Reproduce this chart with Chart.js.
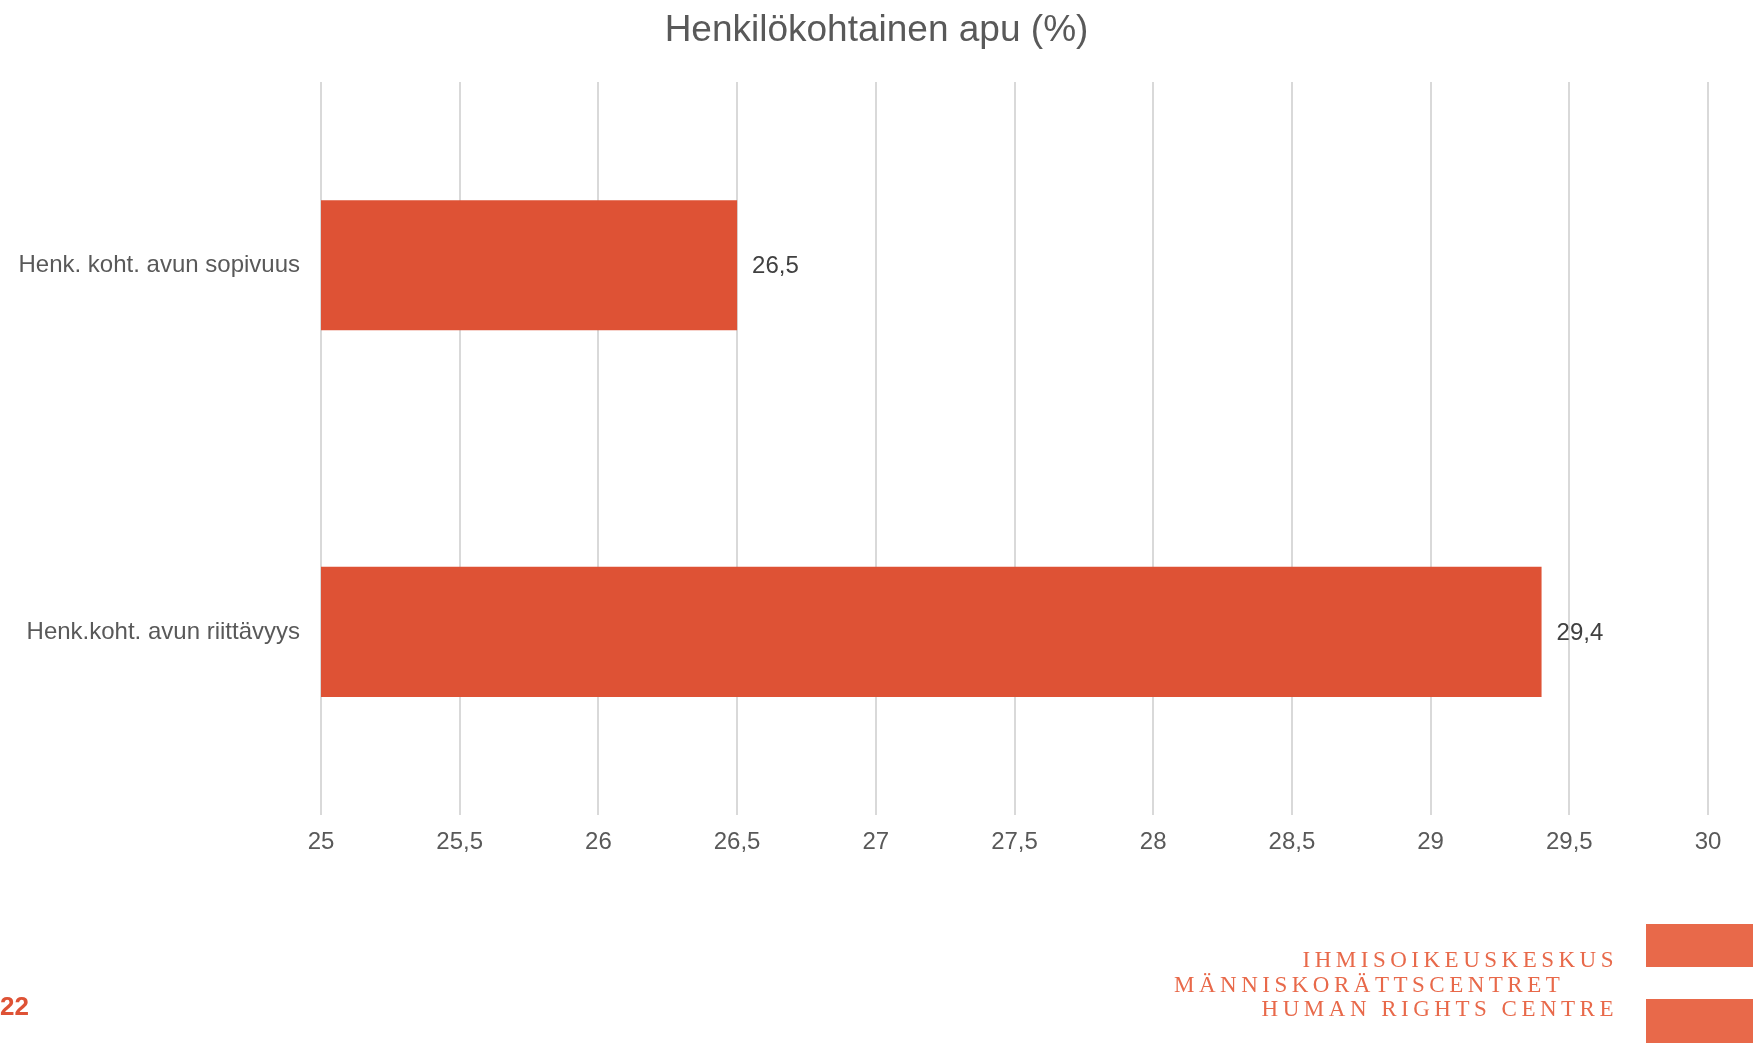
<!DOCTYPE html>
<html>
<head>
<meta charset="utf-8">
<script src="https://cdn.jsdelivr.net/npm/chart.js@4.4.1/dist/chart.umd.min.js"></script>
<style>
  html, body { margin: 0; padding: 0; background: #fff; }
  #wrap { position: relative; width: 1753px; height: 1050px; overflow: hidden; }
  #myChart { position: absolute; left: 0; top: 0; }
  .logo-line {
    position: absolute; font-family: "Liberation Serif", serif; font-size: 23px;
    color: #e8694a; letter-spacing: 4.5px; line-height: 1; white-space: nowrap;
  }
  .logo-box { position: absolute; background: #e8694a; }
  #page { position: absolute; left: 0; top: 993px; font-family: "Liberation Sans", Arial, sans-serif;
    font-weight: bold; font-size: 26px; line-height: 1; color: #de5235; }
</style>
</head>
<body>
<div id="wrap">
  <canvas id="myChart" width="1753" height="1050"></canvas>
  <div class="logo-line" style="right:135px; top:948px;">IHMISOIKEUSKESKUS</div>
  <div class="logo-line" style="left:1174px; top:973px;">MÄNNISKORÄTTSCENTRET</div>
  <div class="logo-line" style="right:135px; top:997px;">HUMAN RIGHTS CENTRE</div>
  <div class="logo-box" style="left:1646px; top:924px; width:107px; height:43px;"></div>
  <div class="logo-box" style="left:1646px; top:999px; width:107px; height:44px;"></div>
  <div id="page">22</div>
</div>
<script>
// chart data
var titleText = 'Henkilökohtainen apu (%)';
var categories = ['Henk. koht. avun sopivuus', 'Henk.koht. avun riittävyys'];
var values = [26.5, 29.4];
var xMin = 25, xMax = 30, xStep = 0.5;

var fmt = function(v) { return String(v).replace('.', ','); };
var FONT = '"Liberation Sans", Arial, sans-serif';

// title centred on the whole page, not on the padded chart box
var pageTitle = {
  id: 'pageTitle',
  afterDraw: function(chart) {
    var ctx = chart.ctx;
    ctx.save();
    ctx.font = '37px ' + FONT;
    ctx.fillStyle = '#595959';
    ctx.textAlign = 'center';
    ctx.textBaseline = 'middle';
    ctx.fillText(titleText, chart.width / 2, 31);
    ctx.restore();
  }
};

// draws the value next to the end of each bar
var valueLabels = {
  id: 'valueLabels',
  afterDatasetsDraw: function(chart) {
    var ctx = chart.ctx;
    var meta = chart.getDatasetMeta(0);
    ctx.save();
    ctx.font = '24px ' + FONT;
    ctx.fillStyle = '#404040';
    ctx.textAlign = 'left';
    ctx.textBaseline = 'middle';
    meta.data.forEach(function(bar, i) {
      ctx.fillText(fmt(values[i]), bar.x + 15, bar.y + 1);
    });
    ctx.restore();
  }
};

window.onload = function() {
  var ctx = document.getElementById('myChart').getContext('2d');
  new Chart(ctx, {
    type: 'bar',
    data: {
      labels: categories,
      datasets: [{
        data: values,
        backgroundColor: '#de5235',
        borderWidth: 0,
        barPercentage: 0.355,
        categoryPercentage: 1
      }]
    },
    options: {
      indexAxis: 'y',
      responsive: false,
      animation: false,
      layout: { padding: { left: 10, right: 45, top: 82, bottom: 180 } },
      plugins: {
        legend: { display: false },
        tooltip: { enabled: false },
        title: { display: false }
      },
      scales: {
        x: {
          min: xMin,
          max: xMax,
          ticks: {
            stepSize: xStep,
            color: '#595959',
            font: { family: FONT, size: 24 },
            padding: 13,
            callback: function(v) { return fmt(v); }
          },
          grid: { color: '#d9d9d9', lineWidth: 2, drawTicks: false },
          border: { display: false }
        },
        y: {
          afterFit: function(scale) { scale.width = 311; },
          ticks: {
            color: '#595959',
            font: { family: FONT, size: 24 },
            padding: 21
          },
          grid: { display: false, drawTicks: false },
          border: { display: false }
        }
      }
    },
    plugins: [valueLabels, pageTitle]
  });
};
</script>
</body>
</html>
